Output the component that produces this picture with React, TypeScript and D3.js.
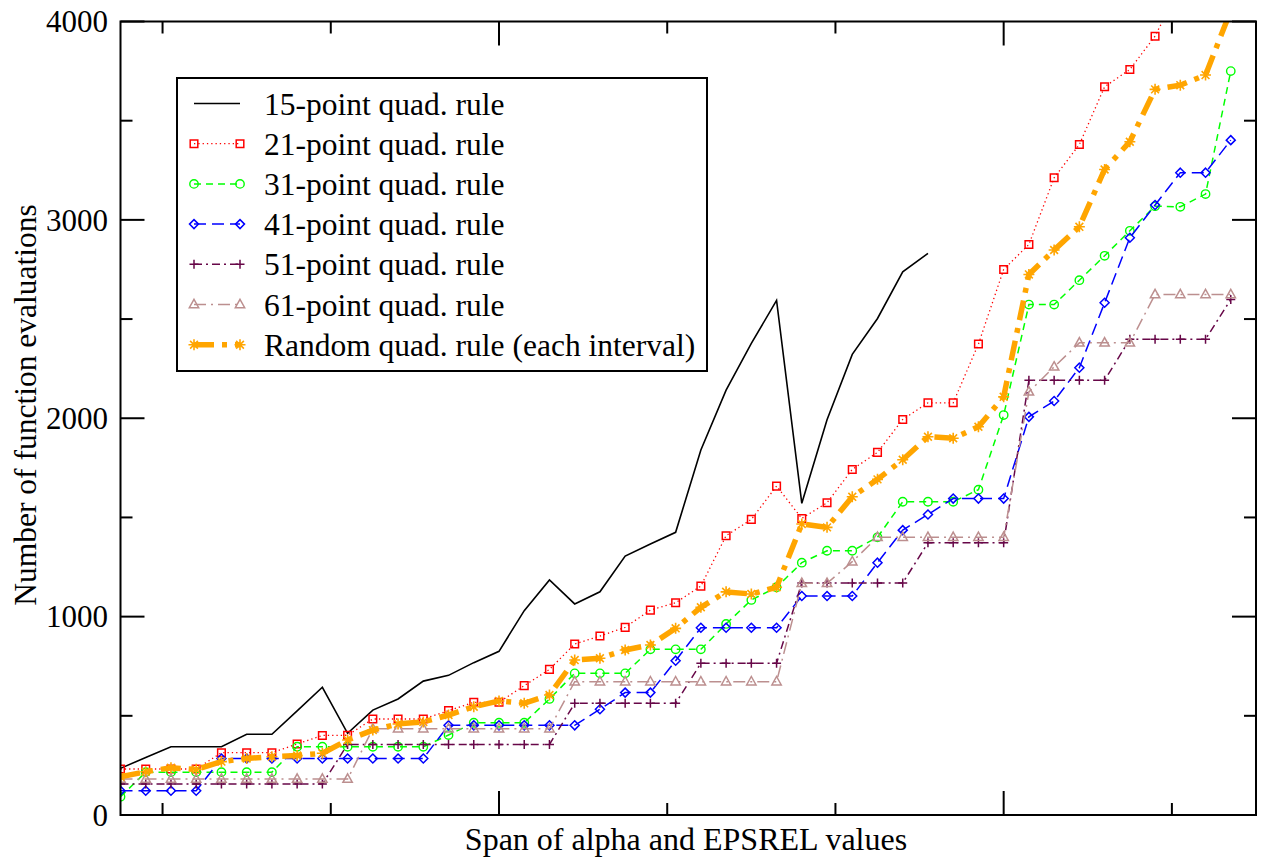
import React from "react";
import * as d3 from "d3";

const xValues = [5,6,7,8,9,10,11,12,13,14,15,16,17,18,19,20,21,22,23,24,25,26,27,28,29,30,31,32,33,34,35,36,37,38,39,40,41,42,43,44,45,46,47,48,49];

const quad15 = [235,290,344,344,344,407,407,525,644,412,529,585,675,704,768,825,1030,1185,1064,1125,1305,1366,1425,1840,2142,2377,2594,1571,1992,2322,2503,2738,2831];
const quad21 = [232,232,232,232,314,314,314,358,401,402,484,484,484,526,568,568,652,734,862,902,946,1033,1070,1154,1408,1490,1658,1495,1574,1742,1828,1994,2078,2078,2374,2750,2876,3212,3380,3671,3758,3926,4180];
const quad31 = [92,216,216,216,216,216,216,344,344,344,344,344,344,403,465,465,465,585,714,714,714,835,835,835,963,1084,1148,1272,1332,1332,1400,1579,1579,1579,1640,2016,2573,2573,2696,2819,2945,3069,3066,3130,3750];
const quad41 = [122,122,122,122,285,285,285,285,285,285,285,285,285,452,452,452,452,452,452,533,617,617,778,944,944,944,944,1104,1104,1104,1272,1436,1515,1595,1595,1595,2007,2087,2255,2582,2910,3075,3238,3238,3402];
const quad51 = [156,156,156,156,156,156,156,156,156,356,356,356,356,356,356,356,356,356,563,563,563,563,563,765,765,765,765,1170,1170,1170,1170,1170,1372,1372,1372,1372,2192,2192,2192,2192,2398,2398,2398,2398,2599];
const quad61 = [181,181,181,181,181,181,181,181,181,181,435,435,435,435,435,435,435,435,672,672,672,672,672,672,672,672,672,1168,1168,1277,1400,1400,1400,1400,1400,1400,2133,2259,2380,2380,2380,2624,2624,2624,2624];
const randomRule = [193,218,238,230,269,285,294,300,311,378,428,459,469,504,546,575,563,605,781,790,832,857,941,1047,1125,1114,1148,1467,1450,1604,1692,1791,1907,1899,1957,2108,2725,2848,2965,3254,3394,3658,3679,3730,4055];

const seriesLabels = [
  "15-point quad. rule",
  "21-point quad. rule",
  "31-point quad. rule",
  "41-point quad. rule",
  "51-point quad. rule",
  "61-point quad. rule",
  "Random quad. rule (each interval)",
];
const yTickValues = [0, 1000, 2000, 3000, 4000];
const yMinorValues = [500, 1500, 2500, 3500];
const xMajorValues = [20, 40];
const xMinorValues = [20 / 3, 40 / 3, 80 / 3, 100 / 3, 140 / 3];
const xTitle = "Span of alpha and EPSREL values";
const yTitle = "Number of function evaluations";

const FONT = "'Liberation Serif', 'Times New Roman', serif";

type Sym = "none" | "square" | "circle" | "diamond" | "plus" | "triangle" | "star";

const styles: { color: string; width: number; dash: string; sym: Sym; symSize: number }[] = [
  { color: "#000000", width: 1.6, dash: "", sym: "none", symSize: 0 },
  { color: "#ff0000", width: 1.3, dash: "1.3,3", sym: "square", symSize: 3.8 },
  { color: "#00ff00", width: 1.5, dash: "7,5", sym: "circle", symSize: 4.2 },
  { color: "#0000ff", width: 1.5, dash: "12,6", sym: "diamond", symSize: 4.5 },
  { color: "#670748", width: 1.5, dash: "8,4,2,4", sym: "plus", symSize: 4.5 },
  { color: "#bc8f8f", width: 1.5, dash: "12,5,2,5", sym: "triangle", symSize: 5.2 },
  { color: "#ffa500", width: 5.5, dash: "20,8,5,8", sym: "star", symSize: 5.5 },
];

const allSeries = [quad15, quad21, quad31, quad41, quad51, quad61, randomRule];

function symbolPath(sym: Sym, r: number): string {
  switch (sym) {
    case "square":
      return `M${-r},${-r}H${r}V${r}H${-r}Z`;
    case "diamond":
      return `M0,${-r}L${r},0L0,${r}L${-r},0Z`;
    case "plus":
      return `M${-r},0H${r}M0,${-r}V${r}`;
    case "triangle":
      return `M0,${-r}L${r * 0.9},${r * 0.62}L${-r * 0.9},${r * 0.62}Z`;
    case "star": {
      const a = r * 0.707;
      return `M${-r},0H${r}M0,${-r}V${r}M${-a},${-a}L${a},${a}M${-a},${a}L${a},${-a}`;
    }
    default:
      return "";
  }
}

function Marker({ sym, r, color, x, y }: { sym: Sym; r: number; color: string; x: number; y: number }) {
  if (sym === "none") return null;
  if (sym === "circle") {
    return <circle cx={x} cy={y} r={r} fill="none" stroke={color} strokeWidth={1.4} />;
  }
  return (
    <path
      d={symbolPath(sym, r)}
      transform={`translate(${x},${y})`}
      fill="none"
      stroke={color}
      strokeWidth={sym === "star" ? 1.6 : 1.5}
    />
  );
}

export default function App() {
  const width = 1265;
  const height = 867;
  const left = 120.5;
  const right = 1256;
  const top = 21.5;
  const bottom = 815;

  const x = d3.scaleLinear().domain([5, 50]).range([left, right]);
  const y = d3.scaleLinear().domain([0, 4000]).range([bottom, top]);

  const line = d3
    .line<number>()
    .x((_, i) => x(xValues[i]))
    .y((d) => y(d));

  const majorLen = 24;
  const minorLen = 12;

  const legendX = 177;
  const legendY = 78;
  const legendW = 530;
  const legendH = 293;
  const rowY0 = 103.5;
  const rowStep = 40.2;

  return (
    <svg width={width} height={height} style={{ position: "absolute", left: 0, top: 0, background: "#fff" }}>
      <defs>
        <clipPath id="plotClip">
          <rect x={left} y={top} width={right - left} height={bottom - top} />
        </clipPath>
      </defs>
      <rect x={0} y={0} width={width} height={height} fill="#fff" />

      {/* series */}
      <g clipPath="url(#plotClip)">
        {allSeries.map((data, si) => {
          const st = styles[si];
          return (
            <g key={si}>
              <path
                d={line(data) || ""}
                fill="none"
                stroke={st.color}
                strokeWidth={st.width}
                strokeDasharray={st.dash || undefined}
                strokeLinejoin="miter"
              />
              {data.map((v, i) => (
                <Marker key={i} sym={st.sym} r={st.symSize} color={st.color} x={x(xValues[i])} y={y(v)} />
              ))}
            </g>
          );
        })}
      </g>

      {/* frame */}
      <rect x={left} y={top} width={right - left} height={bottom - top} fill="none" stroke="#000" strokeWidth={2} />

      {/* y ticks */}
      {yTickValues.map((v) => (
        <g key={`ym${v}`}>
          <line x1={left} x2={left + majorLen} y1={y(v)} y2={y(v)} stroke="#000" strokeWidth={2} />
          <line x1={right} x2={right - majorLen} y1={y(v)} y2={y(v)} stroke="#000" strokeWidth={2} />
          <text x={108} y={y(v)} dy="0.35em" textAnchor="end" fontFamily={FONT} fontSize={31} fill="#000">
            {v}
          </text>
        </g>
      ))}
      {yMinorValues.map((v) => (
        <g key={`yn${v}`}>
          <line x1={left} x2={left + minorLen} y1={y(v)} y2={y(v)} stroke="#000" strokeWidth={2} />
          <line x1={right} x2={right - minorLen} y1={y(v)} y2={y(v)} stroke="#000" strokeWidth={2} />
        </g>
      ))}
      {/* x ticks */}
      {xMajorValues.map((v) => (
        <g key={`xm${v}`}>
          <line x1={x(v)} x2={x(v)} y1={bottom} y2={bottom - majorLen} stroke="#000" strokeWidth={2} />
          <line x1={x(v)} x2={x(v)} y1={top} y2={top + majorLen} stroke="#000" strokeWidth={2} />
        </g>
      ))}
      {xMinorValues.map((v) => (
        <g key={`xn${v}`}>
          <line x1={x(v)} x2={x(v)} y1={bottom} y2={bottom - minorLen} stroke="#000" strokeWidth={2} />
          <line x1={x(v)} x2={x(v)} y1={top} y2={top + minorLen} stroke="#000" strokeWidth={2} />
        </g>
      ))}

      {/* axis titles */}
      <text x={686} y={850} textAnchor="middle" fontFamily={FONT} fontSize={32} fill="#000">
        {xTitle}
      </text>
      <text
        transform={`translate(36,405) rotate(-90)`}
        textAnchor="middle"
        fontFamily={FONT}
        fontSize={31.5}
        fill="#000"
      >
        {yTitle}
      </text>

      {/* legend */}
      <rect x={legendX} y={legendY} width={legendW} height={legendH} fill="#fff" stroke="#000" strokeWidth={2} />
      {seriesLabels.map((label, si) => {
        const st = styles[si];
        const ry = rowY0 + si * rowStep;
        const x1 = 194;
        const x2 = 240;
        return (
          <g key={label}>
            <line
              x1={x1}
              x2={x2}
              y1={ry}
              y2={ry}
              stroke={st.color}
              strokeWidth={st.width}
              strokeDasharray={st.dash || undefined}
            />
            <Marker sym={st.sym} r={st.symSize} color={st.color} x={x1} y={ry} />
            <Marker sym={st.sym} r={st.symSize} color={st.color} x={x2} y={ry} />
            <text x={264} y={ry} dy="0.35em" fontFamily={FONT} fontSize={31.5} fill="#000">
              {label}
            </text>
          </g>
        );
      })}
    </svg>
  );
}
